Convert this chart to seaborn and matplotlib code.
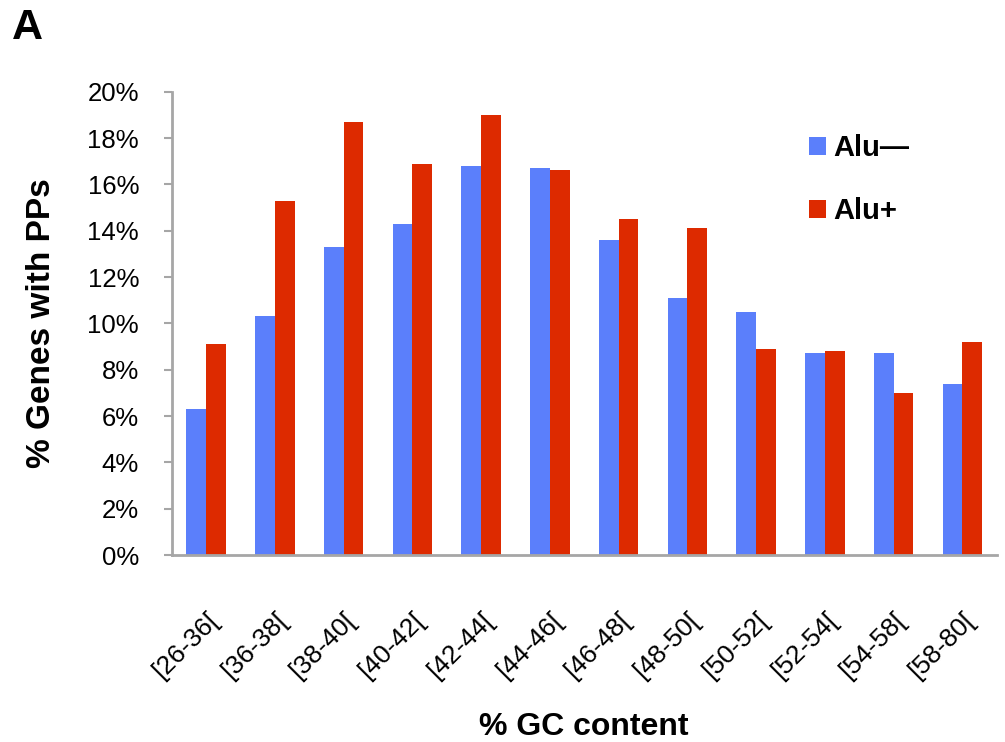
import numpy as np
import pandas as pd
import matplotlib
matplotlib.use("Agg")
import matplotlib.pyplot as plt
import matplotlib.transforms as mtransforms
from matplotlib import font_manager
import seaborn as sns

# values (percent of genes with PPs)
bins = ["[26-36[", "[36-38[", "[38-40[", "[40-42[", "[42-44[", "[44-46[",
        "[46-48[", "[48-50[", "[50-52[", "[52-54[", "[54-58[", "[58-80["]
alu_minus = [6.3, 10.3, 13.3, 14.3, 16.8, 16.7, 13.6, 11.1, 10.5, 8.7, 8.7, 7.4]
alu_plus = [9.1, 15.3, 18.7, 16.9, 19.0, 16.6, 14.5, 14.1, 8.9, 8.8, 7.0, 9.2]
series = ["Alu\u2014", "Alu+"]

df = pd.DataFrame({
    "bin": bins * 2,
    "value": alu_minus + alu_plus,
    "group": [series[0]] * len(bins) + [series[1]] * len(bins),
})

sns.set_style("white")
plt.rcParams["font.family"] = ["Liberation Sans", "DejaVu Sans"]
plt.rcParams["text.color"] = "black"
plt.rcParams["axes.labelcolor"] = "black"
plt.rcParams["xtick.color"] = "black"
plt.rcParams["ytick.color"] = "black"

# condensed face for the bin labels if it is there
installed = {f.name for f in font_manager.fontManager.ttflist}
if "Liberation Sans Narrow" in installed:
    tick_family, tick_size = ["Liberation Sans Narrow", "DejaVu Sans"], 21.5
else:
    tick_family, tick_size = ["Liberation Sans", "DejaVu Sans"], 19

fig = plt.figure(figsize=(10.05, 7.42), dpi=100)
ax = fig.add_axes([0.1708, 0.252, 0.821, 0.6244])

sns.barplot(data=df, x="bin", y="value", hue="group", order=bins,
            hue_order=series, palette=["#5b7ffb", "#dd2a00"],
            width=0.575, saturation=1, linewidth=0, ax=ax)

ax.set_ylim(0, 20)
ax.set_xlim(-0.5, len(bins) - 0.5)
ax.set_yticks(np.arange(0, 21, 2))
ax.set_yticklabels([f"{v}%" for v in range(0, 21, 2)], fontsize=18.5)

ax.set_xticks(range(len(bins)))
ax.set_xticklabels(bins, rotation=45, ha="right", rotation_mode="anchor",
                   fontsize=tick_size, family=tick_family)
shift = mtransforms.ScaledTranslation(0.08, 0, fig.dpi_scale_trans)
for lab in ax.get_xticklabels():
    lab.set_transform(lab.get_transform() + shift)
ax.set_xticks(np.arange(-0.5, len(bins), 1), minor=True)
ax.tick_params(axis="x", which="major", length=0, pad=38)
ax.tick_params(axis="x", which="minor", length=7, width=1.5,
               color="#a6a6a6", direction="out")
ax.tick_params(axis="y", length=5.5, width=1.5, color="#a6a6a6",
               direction="out", left=True, pad=18)

for s in ["top", "right"]:
    ax.spines[s].set_visible(False)
for s in ["left", "bottom"]:
    ax.spines[s].set_color("#a6a6a6")
    ax.spines[s].set_linewidth(2)

ax.set_xlabel("% GC content", fontsize=23, fontweight="bold")
ax.xaxis.set_label_coords(0.5, -0.338)
ax.set_ylabel("% Genes with PPs", fontsize=24, fontweight="bold")
ax.yaxis.set_label_coords(-0.139, 0.5)

ax.legend(loc="upper left", bbox_to_anchor=(0.805, 0.819),
          bbox_transform=fig.transFigure, frameon=False, borderpad=0,
          borderaxespad=0, prop={"size": 21, "weight": "bold"},
          handlelength=0.58, handleheight=0.58, handletextpad=0.24,
          labelspacing=1.2)

fig.text(0.012, 0.947, "A", fontsize=31, fontweight="bold", va="baseline")

fig.savefig("out.png", dpi=100, facecolor="white")
